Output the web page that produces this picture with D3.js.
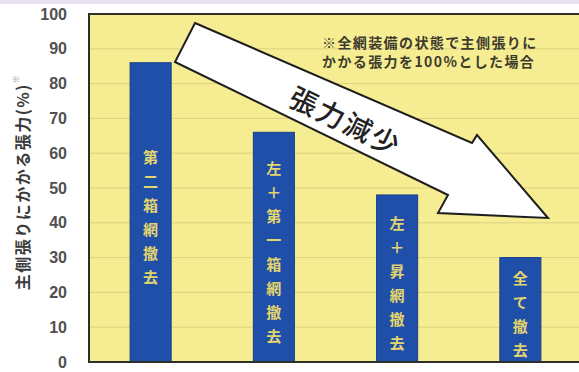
<!DOCTYPE html>
<html>
<head>
<meta charset="utf-8">
<script src="https://cdn.jsdelivr.net/npm/d3@7"></script>
<style>
  html, body { margin: 0; padding: 0; background: #ffffff; }
  svg { display: block; }
</style>
</head>
<body>
<script>
// Tension on the main side net after removing parts of the set net (%)
const categories = ["第二箱網撤去", "左＋第一箱網撤去", "左＋昇網撤去", "全て撤去"];
const tension = [86, 66, 48, 30];
const yTicks = [0, 10, 20, 30, 40, 50, 60, 70, 80, 90, 100];
const yTitle = "主側張りにかかる張力(%)";
const yTitleMark = "※";
const noteLines = ["※全網装備の状態で主側張りに", "かかる張力を100%とした場合"];
const arrowLabel = "張力減少";

const W = 579, H = 372;
const plot = { left: 89, top: 14, bottom: 362, right: 582 };

const svg = d3.select("body").append("svg")
  .attr("width", W).attr("height", H);

// thin lavender band along the top edge
svg.append("rect").attr("x", 0).attr("y", 0).attr("width", W).attr("height", 4)
  .attr("fill", "#e7e0f0");

const x = d3.scaleBand()
  .domain(categories)
  .range([plot.left, plot.right])
  .paddingInner(2 / 3)
  .paddingOuter(1 / 3);

const y = d3.scaleLinear().domain([0, 100]).range([plot.bottom, plot.top]);

// plot background
svg.append("rect")
  .attr("x", plot.left).attr("y", plot.top)
  .attr("width", plot.right - plot.left).attr("height", plot.bottom - plot.top)
  .attr("fill", "#f6ed93");

// horizontal gridlines
svg.append("g")
  .selectAll("line")
  .data(yTicks.filter(t => t > 0 && t < 100))
  .join("line")
  .attr("x1", plot.left).attr("x2", plot.right)
  .attr("y1", d => y(d)).attr("y2", d => y(d))
  .attr("stroke", "#ddd17f").attr("stroke-width", 1);

// bars
svg.append("g")
  .selectAll("rect")
  .data(categories)
  .join("rect")
  .attr("x", d => x(d))
  .attr("y", (d, i) => y(tension[i]))
  .attr("width", x.bandwidth())
  .attr("height", (d, i) => y(0) - y(tension[i]))
  .attr("fill", "#1f4fa9")
  .attr("stroke", "#173f8c")
  .attr("stroke-width", 1);

// vertical labels inside the bars
const charStep = 24;
categories.forEach((cat, i) => {
  const chars = Array.from(cat);
  const cx = x(cat) + x.bandwidth() / 2;
  const mid = (y(tension[i]) + y(0)) / 2 + 4;
  const start = mid - (chars.length - 1) * charStep / 2;
  svg.append("g").selectAll("text")
    .data(chars)
    .join("text")
    .attr("x", cx)
    .attr("y", (c, j) => start + j * charStep)
    .attr("text-anchor", "middle")
    .attr("dominant-baseline", "central")
    .attr("font-family", "'Noto Sans CJK JP', sans-serif")
    .attr("font-weight", 700)
    .attr("font-size", 15)
    .attr("fill", "#e3d56e")
    .text(c => c);
});

// frame (left, top, bottom)
svg.append("path")
  .attr("d", `M${plot.right},${plot.top}H${plot.left}V${plot.bottom}H${plot.right}`)
  .attr("fill", "none")
  .attr("stroke", "#2e2e2a")
  .attr("stroke-width", 2);

// y axis tick labels
const yAxis = d3.axisLeft(y).tickValues(yTicks).tickSize(0).tickPadding(22);
const gy = svg.append("g").attr("transform", `translate(${plot.left},0)`).call(yAxis);
gy.select(".domain").remove();
gy.selectAll("text")
  .attr("font-family", "'Liberation Sans', Arial, sans-serif")
  .attr("font-weight", 700)
  .attr("font-size", 16)
  .attr("fill", "#505050");

// y axis title
const title = svg.append("text")
  .attr("transform", "translate(22,182) rotate(-90)")
  .attr("text-anchor", "middle")
  .attr("dominant-baseline", "central")
  .attr("font-family", "'Noto Sans CJK JP', sans-serif")
  .attr("font-weight", 700)
  .attr("font-size", 16)
  .attr("letter-spacing", 1.5)
  .attr("fill", "#3a3a3a");
title.append("tspan").text(yTitle);
title.append("tspan").attr("font-size", 8).attr("dy", -7).attr("fill", "#888").text(yTitleMark);

// note in the upper right
svg.append("g").selectAll("text")
  .data(noteLines)
  .join("text")
  .attr("x", 322)
  .attr("y", (d, i) => 42 + i * 18.5)
  .attr("dominant-baseline", "central")
  .attr("font-family", "'Noto Sans CJK JP', sans-serif")
  .attr("font-weight", 700)
  .attr("font-size", 14)
  .attr("letter-spacing", 1.4)
  .attr("fill", "#3d3b2c")
  .text(d => d);

// big downward arrow
const arrowPts = [[195, 23], [472, 143], [477, 135], [548, 218], [438, 213], [448, 195], [175, 62]];
svg.append("path")
  .attr("d", d3.line()(arrowPts) + "Z")
  .attr("fill", "#ffffff")
  .attr("stroke", "#1e1e1e")
  .attr("stroke-width", 2)
  .attr("stroke-linejoin", "miter");

svg.append("text")
  .attr("transform", "translate(346,120) rotate(26)")
  .attr("text-anchor", "middle")
  .attr("dominant-baseline", "central")
  .attr("font-family", "'Noto Sans CJK JP', sans-serif")
  .attr("font-weight", 500)
  .attr("font-size", 28)
  .attr("letter-spacing", 2)
  .attr("fill", "#222")
  .text(arrowLabel);
</script>
</body>
</html>
